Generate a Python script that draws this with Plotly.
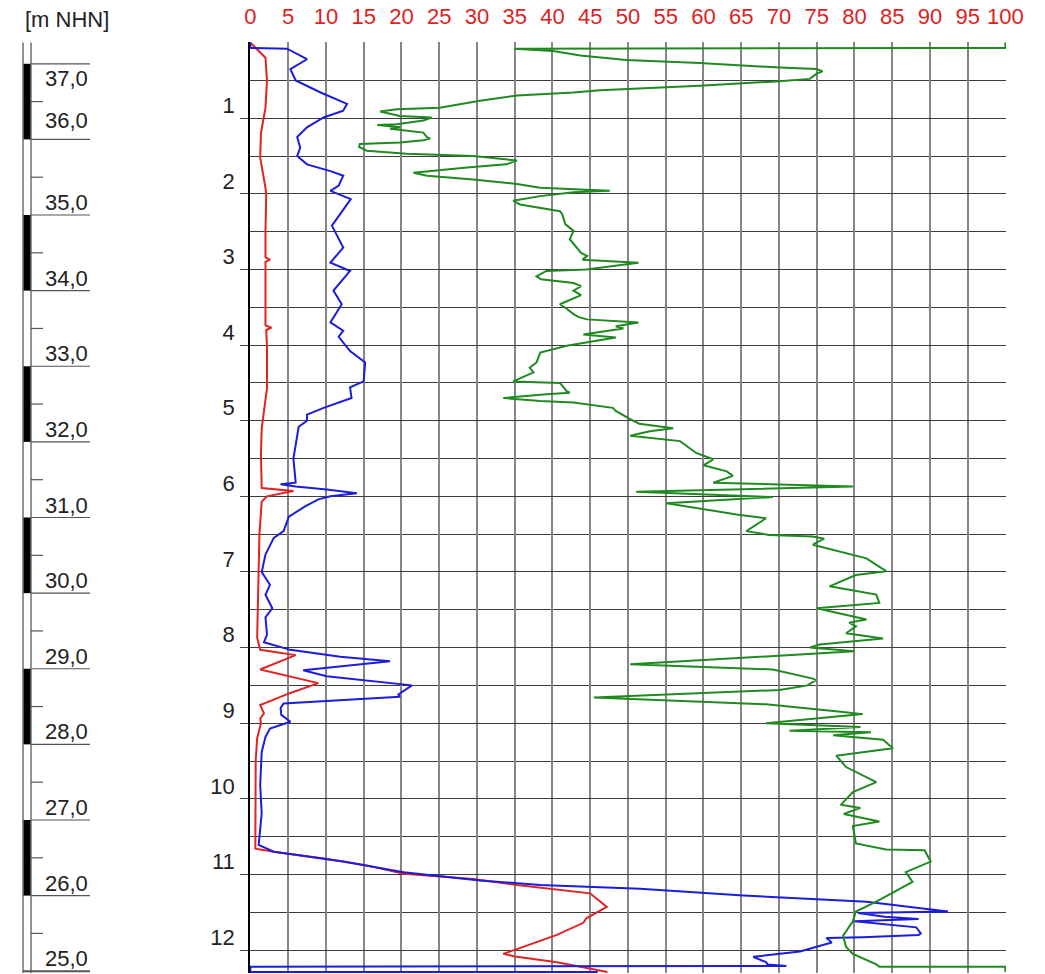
import plotly.graph_objects as go

# ---------------- data ----------------
GROUND_ELEV = 37.28  # m NHN at depth 0

red_depth = [0, 0.05, 0.2, 0.5, 0.86, 1.2, 1.52, 1.92, 2.0, 2.49, 2.84, 2.87, 2.9, 3.15, 3.74, 3.77,
             3.8, 4.03, 4.57, 5.1, 5.45, 5.89, 5.93, 6.0, 6.07, 6.5, 7.0, 7.65, 7.87, 8.03, 8.1,
             8.29, 8.47, 8.6, 8.76, 8.87, 8.94, 9.0, 9.2, 9.5, 10.66, 10.7, 10.79, 10.88, 10.99,
             11.06, 11.14, 11.25, 11.43, 11.58, 11.64, 11.8, 11.93, 12.05, 12.09, 12.16, 12.29]
red_value = [0, 0.5, 2.0, 2.2, 2.0, 1.4, 1.3, 2.0, 2.1, 2.0, 2.0, 2.6, 2.0, 2.0, 2.0, 2.8,
             2.1, 2.2, 2.2, 1.5, 1.4, 1.5, 5.7, 2.2, 1.5, 1.2, 1.1, 0.97, 0.9, 1.3, 6.0,
             1.3, 9.0, 5.3, 1.3, 1.8, 1.3, 1.4, 0.9, 0.7, 0.66, 3.1, 9.7, 15.4, 20.3,
             29.5, 35.3, 45.0, 47.2, 44.5, 44.1, 40.6, 37.0, 33.5, 35.3, 40.6, 47.3]

blue_depth = [0, 0.07, 0.08, 0.22, 0.35, 0.5, 0.66, 0.81, 0.9, 0.99, 1.12, 1.25, 1.39, 1.5, 1.61,
              1.7, 1.76, 1.89, 1.96, 2.07, 2.42, 2.71, 2.91, 3.02, 3.28, 3.46, 3.7, 3.81, 3.89,
              4.08, 4.23, 4.48, 4.56, 4.7, 4.83, 4.92, 5.0, 5.08, 5.5, 5.82, 5.84, 5.87, 5.91,
              5.96, 6.0, 6.04, 6.13, 6.27, 6.46, 6.55, 6.77, 7.0, 7.17, 7.3, 7.48, 7.6, 7.83,
              7.93, 8.03, 8.12, 8.18, 8.3, 8.38, 8.5, 8.62, 8.65, 8.74, 8.8, 8.89, 8.98, 9.07,
              9.18, 9.38, 9.82, 10.19, 10.61, 10.7, 10.83, 10.97, 11.08, 11.14, 11.19, 11.28,
              11.36, 11.49, 11.51, 11.56, 11.59, 11.62, 11.7, 11.78, 11.8, 11.83, 11.84, 11.9,
              11.96, 12.02, 12.09, 12.16, 12.19, 12.21, 12.22, 12.29, 12.29]
blue_value = [0, 0, 4.85, 7.5, 5.3, 6.0, 9.3, 12.8, 12.3, 9.7, 7.5, 6.2, 6.6, 6.2, 7.5,
              10.6, 12.3, 11.7, 10.6, 13.3, 10.8, 12.3, 10.6, 13.2, 11.0, 12.1, 10.6, 12.3, 11.7,
              13.2, 15.2, 15.0, 13.2, 13.4, 9.7, 7.5, 7.5, 6.4, 5.7, 6.0, 4.0, 6.0, 10.1,
              14.1, 10.6, 9.0, 7.3, 5.1, 4.4, 3.1, 2.0, 1.5, 2.6, 2.0, 2.9, 2.0, 2.2,
              1.8, 5.3, 11.9, 18.5, 7.0, 10.1, 21.4, 19.6, 19.8, 4.4, 4.0, 4.1, 5.3, 2.6,
              2.0, 1.5, 1.3, 1.5, 1.1, 3.1, 12.3, 20.3, 30.4, 38.4, 51.6, 65.3,
              81.6, 92.4, 80.5, 84.0, 88.5, 80.0, 88.2, 88.8, 88.5, 81.1, 76.3, 77.0,
              75.0, 72.8, 66.6, 68.3, 68.5, 71.0, 0, 0, 46.0]

green_depth = [0, 0.07, 0.07, 0.08, 0.11, 0.17, 0.23, 0.27, 0.33, 0.35, 0.38, 0.41, 0.48, 0.51,
               0.57, 0.63, 0.66, 0.7, 0.77, 0.86, 0.88, 0.91, 0.97, 0.98, 0.99, 1.03, 1.08, 1.09,
               1.12, 1.14, 1.19, 1.25, 1.27, 1.29, 1.32, 1.34, 1.38, 1.43, 1.47, 1.5, 1.56, 1.61,
               1.65, 1.72, 1.76, 1.81, 1.87, 1.92, 1.96, 1.98, 2.03, 2.09, 2.14, 2.23, 2.27, 2.4,
               2.49, 2.6, 2.71, 2.78, 2.82, 2.87, 2.91, 3.0, 3.02, 3.09, 3.13, 3.18, 3.22, 3.28,
               3.34, 3.46, 3.52, 3.59, 3.63, 3.66, 3.7, 3.75, 3.78, 3.86, 3.9, 4.01, 4.1, 4.23,
               4.3, 4.36, 4.48, 4.5, 4.61, 4.63, 4.65, 4.7, 4.74, 4.76, 4.83, 4.87, 4.98, 5.04,
               5.1, 5.14, 5.2, 5.27, 5.43, 5.51, 5.59, 5.67, 5.73, 5.82, 5.87, 5.94, 6.01, 6.09,
               6.24, 6.29, 6.46, 6.51, 6.53, 6.56, 6.64, 6.82, 6.99, 7.04, 7.19, 7.3, 7.41, 7.48,
               7.63, 7.67, 7.72, 7.81, 7.88, 7.96, 8.0, 8.05, 8.22, 8.29, 8.41, 8.43, 8.5, 8.56,
               8.66, 8.75, 8.85, 8.88, 9.0, 9.05, 9.1, 9.12, 9.16, 9.22, 9.33, 9.43, 9.58, 9.78,
               9.91, 10.08, 10.12, 10.2, 10.3, 10.36, 10.59, 10.67, 10.68, 10.83, 10.97, 11.1,
               11.36, 11.49, 11.62, 11.81, 11.96, 12.05, 12.19, 12.22, 12.22, 12.29]
green_value = [100, 100, 90, 35, 40.1, 43.7, 49.8, 59.5, 70.1, 75.0, 75.8, 75.0, 74.1, 70.1,
               59.5, 46.3, 42.8, 35.3, 30.4, 25.1, 19.4, 17.2, 19.8, 22.9, 24.0, 22.9, 19.4, 16.8,
               19.8, 18.5, 22.9, 23.4, 23.8, 22.9, 19.8, 14.5, 14.4, 15.4, 20.7, 29.5, 35.3, 33.9,
               28.7, 21.6, 23.4, 29.5, 35.3, 38.4, 47.6, 42.8, 38.4, 34.8, 35.7, 41.0, 41.3, 41.7,
               42.8, 42.3, 43.2, 43.8, 44.6, 44.0, 51.4, 44.5, 39.2, 37.9, 38.5, 42.8, 43.8, 42.8,
               43.8, 41.0, 41.9, 42.8, 43.5, 44.6, 51.4, 48.4, 49.4, 44.1, 48.4, 41.9, 38.4, 37.9,
               37.0, 37.5, 34.8, 41.0, 41.9, 42.3, 39.2, 33.5, 38.4, 42.8, 48.0, 48.4, 50.3, 51.5,
               56.0, 52.9, 50.3, 56.9, 59.1, 61.3, 60.0, 63.1, 63.9, 61.3, 79.8, 51.1, 69.2, 55.1,
               64.4, 68.3, 65.7, 68.7, 74.5, 76.0, 74.5, 81.6, 84.2, 80.2, 76.7, 82.9, 83.3, 75.0,
               81.6, 79.3, 80.2, 78.9, 83.8, 75.4, 74.1, 80.0, 50.3, 69.2, 74.5, 74.9, 73.8, 70.1,
               45.5, 68.3, 78.2, 81.1, 68.3, 80.8, 71.4, 82.2, 77.2, 83.8, 85.1, 77.6, 78.9, 82.9,
               79.8, 78.2, 80.8, 78.6, 83.3, 79.8, 80.2, 84.2, 89.3, 90.1, 86.8, 87.7,
               82.9, 80.2, 79.8, 78.5, 78.9, 79.8, 82.9, 83.3, 100, 100]

x_ticks = list(range(0, 101, 5))
depth_ticks = list(range(1, 13))
elev_values = [37, 36, 35, 34, 33, 32, 31, 30, 29, 28, 27, 26, 25]
elev_labels = ["37,0", "36,0", "35,0", "34,0", "33,0", "32,0", "31,0", "30,0",
               "29,0", "28,0", "27,0", "26,0", "25,0"]
black_bands = [(36, 37), (34, 35), (32, 33), (30, 31), (28, 29), (26, 27)]

# ---------------- styling ----------------
OFF = 0                      # page body margin (set to 0 by the post script)
W, H = 1045, 974
PLOT_L, PLOT_R, PLOT_T, PLOT_B = 250, 1006, 42, 973   # wanted page pixels of the plot area
ML = 0
MT = PLOT_T - OFF
MR = OFF + W - PLOT_R
MB = OFF + H - PLOT_B
PW = W - ML - MR
FONT = "Liberation Sans, Arial, sans-serif"
DEPTH_MAX = (PLOT_B - PLOT_T) / 75.67

fig = go.Figure()
for d, v, c in [(red_depth, red_value, "#e02424"),
                (blue_depth, blue_value, "#1c1cdc"),
                (green_depth, green_value, "#1f8a1f")]:
    fig.add_trace(go.Scatter(x=v, y=d, mode="lines", line=dict(color=c, width=2),
                             hoverinfo="skip", showlegend=False))

# left elevation scale (own axes, page-pixel x units, elevation y units)
shapes = []
top_e = GROUND_ELEV + 0.008
bot_e = GROUND_ELEV - DEPTH_MAX
scale_col = "#6e6e6e"
for lo, hi in black_bands:
    shapes.append(dict(type="rect", xref="x2", yref="y2", x0=23, x1=31, y0=lo, y1=hi,
                       fillcolor="black", line=dict(width=0)))
for xx in (23, 31):
    shapes.append(dict(type="line", xref="x2", yref="y2", x0=xx, x1=xx, y0=bot_e, y1=GROUND_ELEV,
                       line=dict(color=scale_col, width=1.5)))
for e in elev_values:
    x0 = 23 if e == min(elev_values) else 31
    shapes.append(dict(type="line", xref="x2", yref="y2", x0=x0, x1=90, y0=e, y1=e,
                       line=dict(color="#555555", width=2 if e == min(elev_values) else 1.2)))
for e in elev_values[:-1]:
    shapes.append(dict(type="line", xref="x2", yref="y2", x0=31, x1=43, y0=e - 0.5, y1=e - 0.5,
                       line=dict(color="#555555", width=1.2)))

label_shift = {37: -15, 36: 19}
annotations = []
for e, t in zip(elev_values, elev_labels):
    annotations.append(dict(xref="x2", yref="y2", x=90, y=e, text=t, showarrow=False,
                            xanchor="right", yanchor="middle", yshift=label_shift.get(e, 12.5),
                            font=dict(family=FONT, size=22, color="#222222")))
annotations.append(dict(xref="x2", yref="paper", x=23, y=1, text="[m NHN]", showarrow=False,
                        xanchor="left", yanchor="middle", yshift=23,
                        font=dict(family=FONT, size=22, color="#222222")))

fig.update_layout(
    width=W, height=H, margin=dict(l=ML, r=MR, t=MT, b=MB, pad=0, autoexpand=False),
    plot_bgcolor="white", paper_bgcolor="white", showlegend=False,
    xaxis=dict(domain=[(PLOT_L - OFF) / PW, 1], range=[-0.05, 100.08], side="top", automargin=False,
               tickmode="array", tickvals=x_ticks, ticktext=[str(t) for t in x_ticks],
               tickfont=dict(family=FONT, size=22, color="#dd2222"),
               ticks="outside", ticklen=8, tickcolor="rgba(0,0,0,0)",
               showgrid=True, gridcolor="#858585", gridwidth=1.6,
               zeroline=False, showline=False, fixedrange=True),
    yaxis=dict(range=[DEPTH_MAX, -0.008], tickmode="array", tickvals=depth_ticks,
               ticktext=[str(t) for t in depth_ticks], automargin=False,
               tickfont=dict(family=FONT, size=22, color="#222222"),
               ticks="outside", ticklen=8, tickcolor="#444444", tickwidth=1.2,
               ticklabelshift=13, ticklabelstandoff=1,
               showgrid=True, gridcolor="#3c3c3c", gridwidth=1.2,
               minor=dict(tickmode="linear", tick0=0, dtick=0.5, showgrid=True,
                          gridcolor="#3c3c3c", gridwidth=1.2, ticks=""),
               zeroline=False, showline=True, linecolor="black", linewidth=1.5,
               fixedrange=True),
    xaxis2=dict(domain=[0, 240 / PW], range=[OFF, OFF + 240], visible=False, anchor="y2",
                fixedrange=True, automargin=False),
    yaxis2=dict(domain=[0, 1], range=[bot_e, top_e], visible=False, anchor="x2",
                fixedrange=True, automargin=False),
    shapes=shapes, annotations=annotations,
)

fig.write_html("out.html", config={"displayModeBar": False},
               post_script="document.body.style.margin='0';")
